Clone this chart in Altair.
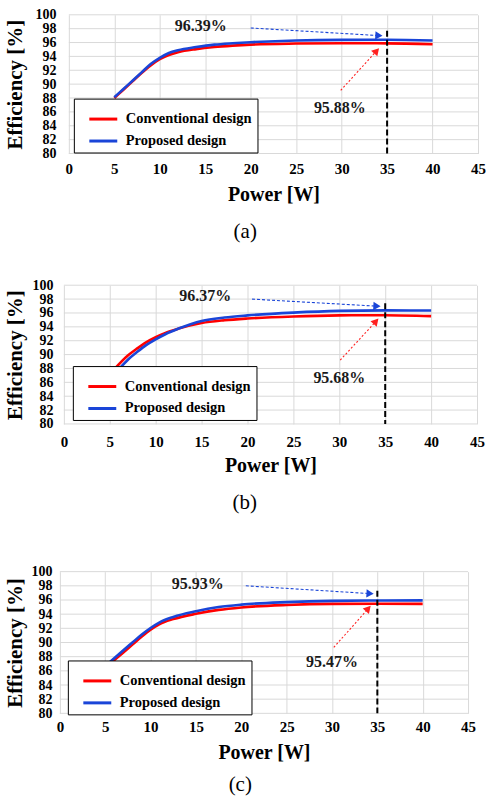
import altair as alt
import pandas as pd

SERIES = ["Conventional design", "Proposed design"]
COLORS = ["#ff0000", "#1a45d8"]
X_TICKS = [0, 5, 10, 15, 20, 25, 30, 35, 40, 45]
Y_TICKS = [80, 82, 84, 86, 88, 90, 92, 94, 96, 98, 100]

# ---------------- panel (a) ----------------
a_conv_x = [5, 6, 7, 8, 9, 10, 11, 12, 14, 16, 18, 20, 25, 30, 35, 40]
a_conv_y = [88.0, 89.2, 90.4, 91.6, 92.7, 93.6, 94.2, 94.6, 95.05, 95.35, 95.55, 95.7, 95.85, 95.9, 95.88, 95.75]
a_prop_x = [5, 6, 7, 8, 9, 10, 11, 12, 14, 16, 18, 20, 25, 30, 35, 40]
a_prop_y = [88.1, 89.3, 90.5, 91.7, 92.9, 93.8, 94.5, 94.9, 95.35, 95.7, 95.9, 96.05, 96.3, 96.38, 96.39, 96.3]
a_marker = [35, 97.7]                      # dashed marker: power, top of line
a_labels = ["96.39%", "95.88%"]
a_label_pos = [[14.5, 98.4], [29.8, 86.5]]
a_blue_arrow = [[20.0, 98.1], [34.1, 97.0]]
a_red_arrow = [[29.9, 89.1], [33.85, 94.8]]

# ---------------- panel (b) ----------------
b_conv_x = [5.5, 7, 8, 9, 10, 11, 12.5, 15, 17.5, 20, 25, 30, 35, 40]
b_conv_y = [87.9, 89.9, 90.9, 91.8, 92.5, 93.1, 93.75, 94.55, 94.95, 95.2, 95.5, 95.65, 95.68, 95.55]
b_prop_x = [6, 7, 8, 9, 10, 11, 12.5, 15, 17.5, 20, 25, 30, 35, 40]
b_prop_y = [87.9, 89.3, 90.4, 91.4, 92.2, 92.9, 93.75, 94.85, 95.35, 95.65, 96.05, 96.3, 96.37, 96.35]
b_marker = [35, 97.4]
b_labels = ["96.37%", "95.68%"]
b_label_pos = [[15.4, 98.4], [30.0, 86.6]]
b_blue_arrow = [[20.5, 98.0], [34.1, 96.98]]
b_red_arrow = [[30.1, 89.2], [34.0, 94.8]]

# ---------------- panel (c) ----------------
c_conv_x = [5.5, 7, 8, 9, 10, 11, 12.5, 15, 17.5, 20, 25, 30, 35, 40]
c_conv_y = [87.0, 88.6, 89.7, 90.8, 91.8, 92.6, 93.3, 94.05, 94.6, 94.95, 95.3, 95.45, 95.47, 95.45]
c_prop_x = [5.3, 7, 8, 9, 10, 11, 12.5, 15, 17.5, 20, 25, 30, 35, 40]
c_prop_y = [87.0, 88.9, 90.0, 91.1, 92.05, 92.85, 93.6, 94.4, 95.0, 95.35, 95.7, 95.88, 95.93, 95.95]
c_marker = [35, 97.3]
c_labels = ["95.93%", "95.47%"]
c_label_pos = [[15.2, 98.3], [30.0, 87.3]]
c_blue_arrow = [[20.5, 98.0], [34.2, 96.9]]
c_red_arrow = [[30.2, 89.3], [34.0, 94.8]]

SERIF = "Liberation Serif"
GRID = "#d9d9d9"
NB = "\u00a0"


def make_panel(conv_x, conv_y, prop_x, prop_y, marker, labels, label_pos,
               blue_arrow, red_arrow, caption, shift, w, h, ylab_pad, ytitle_pad,
               xlab_pad, xtitle_pad, cap_offset, leg_x, leg_y):
    xs = alt.Scale(domain=[0, 45], nice=False, zero=False, range=[shift, shift + w])
    ys = alt.Scale(domain=[80, 100], nice=False, zero=False)
    xax = alt.Axis(values=X_TICKS, title="Power [W]", labelPadding=xlab_pad,
                   titlePadding=xtitle_pad, labelFlush=False, grid=True)
    yax = alt.Axis(values=Y_TICKS, title="Efficiency [%]", labelPadding=ylab_pad,
                   titlePadding=ytitle_pad, grid=False, labelOverlap=False)

    def X(f="Power"):
        return alt.X(f"{f}:Q", scale=xs, axis=xax)

    def Y(f="Efficiency"):
        return alt.Y(f"{f}:Q", scale=ys, axis=yax)

    gdf = pd.DataFrame({"Power": [X_TICKS[0]] * len(Y_TICKS),
                        "Power2": [X_TICKS[-1]] * len(Y_TICKS),
                        "Efficiency": Y_TICKS})
    hgrid = alt.Chart(gdf).mark_rule(color=GRID, strokeWidth=1).encode(
        x=X(), x2="Power2:Q", y=Y())

    rows = [{"Power": x, "Efficiency": y, "Design": SERIES[0]} for x, y in zip(conv_x, conv_y)]
    rows += [{"Power": x, "Efficiency": y, "Design": SERIES[1]} for x, y in zip(prop_x, prop_y)]
    label_expr = ("datum.label == 'Proposed design' ? '" + NB * 4 + "Proposed design" + NB * 5
                  + "' : datum.label + '" + NB * 5 + "'")
    lines = alt.Chart(pd.DataFrame(rows)).mark_line(
        strokeWidth=2.6, interpolate="monotone"
    ).encode(
        x=X(), y=Y(),
        color=alt.Color("Design:N", sort=SERIES,
                        scale=alt.Scale(domain=SERIES, range=COLORS),
                        legend=alt.Legend(
                            title=None, orient="none", legendX=leg_x, legendY=leg_y,
                            symbolType="stroke", symbolStrokeWidth=3, symbolSize=784,
                            labelFont=SERIF, labelFontWeight="bold", labelFontSize=14.5,
                            labelColor="black", labelOffset=7, symbolOffset=9,
                            padding=5, rowPadding=-9, fillColor="white",
                            strokeColor="black", labelLimit=400,
                            labelExpr=label_expr)),
        order=alt.Order("Power:Q"),
    )

    vdf = pd.DataFrame({"Power": [marker[0]], "Efficiency": [marker[1]], "Efficiency2": [80]})
    vline = alt.Chart(vdf).mark_rule(color="black", strokeWidth=2, strokeDash=[6, 3]).encode(
        x=X(), y=Y(), y2="Efficiency2:Q")

    def arrow(pts, color, dash):
        df = pd.DataFrame({"Power": [pts[0][0]], "Efficiency": [pts[0][1]],
                           "Power2": [pts[1][0]], "Efficiency2": [pts[1][1]]})
        return alt.Chart(df).mark_rule(color=color, strokeWidth=1.1, strokeDash=dash).encode(
            x=X(), y=Y(), x2="Power2:Q", y2="Efficiency2:Q")

    def head(pts, color, angle):
        df = pd.DataFrame({"Power": [pts[1][0]], "Efficiency": [pts[1][1]]})
        return alt.Chart(df).mark_point(shape="triangle-right", filled=True, size=70,
                                        color=color, opacity=1, angle=angle).encode(
            x=X(), y=Y())

    tdf = pd.DataFrame({"Power": [p[0] for p in label_pos],
                        "Efficiency": [p[1] for p in label_pos],
                        "Label": labels})
    texts = alt.Chart(tdf).mark_text(font=SERIF, fontWeight="bold", fontSize=16,
                                     color="#1a1a1a").encode(x=X(), y=Y(), text="Label:N")

    layer = alt.layer(
        hgrid, lines, vline,
        arrow(blue_arrow, "#1a45d8", [3, 2]), head(blue_arrow, "#1a45d8", 3),
        arrow(red_arrow, "#ff2020", [2, 2]), head(red_arrow, "#ff2020", 312),
        texts,
    ).properties(
        width=shift + w, height=h,
        title=alt.TitleParams(caption, orient="bottom", anchor="middle", frame="bounds",
                              font=SERIF, fontSize=21, fontWeight="normal",
                              color="black", offset=cap_offset),
    )
    return layer


pa = make_panel(a_conv_x, a_conv_y, a_prop_x, a_prop_y, a_marker, a_labels, a_label_pos,
                a_blue_arrow, a_red_arrow, "(a)", 9, 410, 139, 4, 9, 8, 8, 17, 14, 84)
pb = make_panel(b_conv_x, b_conv_y, b_prop_x, b_prop_y, b_marker, b_labels, b_label_pos,
                b_blue_arrow, b_red_arrow, "(b)", 4, 414, 139, 7, 6, 11, 6, 16, 13, 81)
pc = make_panel(c_conv_x, c_conv_y, c_prop_x, c_prop_y, c_marker, c_labels, c_label_pos,
                c_blue_arrow, c_red_arrow, "(c)", 0, 409, 142, 8, 5, 6, 8, 12, 8, 89)

top = alt.vconcat(pa, pb, spacing=34).resolve_scale(
    color="independent").resolve_legend(color="independent")
chart = alt.vconcat(top, pc, spacing=50).resolve_scale(
    color="independent").resolve_legend(color="independent").properties(
    padding={"left": 4, "top": 6, "right": 0, "bottom": 0}
).configure_view(stroke="transparent").configure_axis(
    gridColor=GRID, gridWidth=1, domain=False, ticks=False,
    labelFont=SERIF, labelFontWeight="bold", labelFontSize=14, labelColor="black",
    titleFont=SERIF, titleFontWeight="bold", titleFontSize=21, titleColor="black",
).configure_axisX(titleFontSize=20, labelFontSize=15)

chart.save("out.html", embed_options={"renderer": "svg", "actions": False})
